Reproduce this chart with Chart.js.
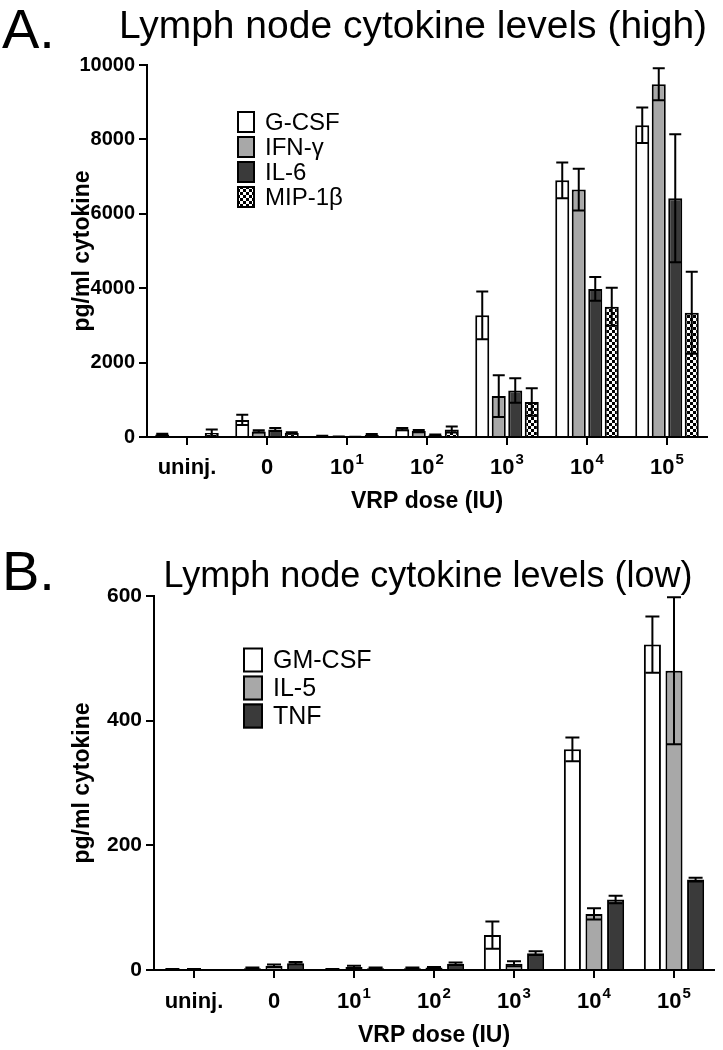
<!DOCTYPE html>
<html>
<head>
<meta charset="utf-8">
<script src="https://cdn.jsdelivr.net/npm/chart.js"></script>
<style>
body { margin: 0; background: #fff; overflow: hidden; }
#wrap { position: relative; width: 723px; height: 1050px; font-family: "Liberation Sans", Arial, sans-serif; }
canvas { position: absolute; left: 0; }
.lbl { position: absolute; line-height: 1; white-space: nowrap; color: #000; }
</style>
</head>
<body>
<div id="wrap">
  <canvas id="chartA" width="723" height="525" style="top:0"></canvas>
  <canvas id="chartB" width="723" height="525" style="top:525px"></canvas>
  <div class="lbl" style="left:2px;top:1px;font-size:56px">A.</div>
  <div class="lbl" style="left:413px;top:5px;font-size:39px;transform:translateX(-50%)">Lymph node cytokine levels (high)</div>
  <div class="lbl" style="left:2px;top:543px;font-size:56px">B.</div>
  <div class="lbl" style="left:428px;top:557px;font-size:36px;transform:translateX(-50%)">Lymph node cytokine levels (low)</div>
</div>
<script>
// data
var doses = ['uninj.', '0', '10^1', '10^2', '10^3', '10^4', '10^5'];

var highNames = ['G-CSF', 'IFN-\u03b3', 'IL-6', 'MIP-1\u03b2'];
var gcsf     = [70, 460, 30, 210, 3270, 6900, 8380];
var gcsfErr  = [20, 140, 5, 30, 640, 480, 480];
var ifng     = [0, 150, 10, 160, 1100, 6650, 9480];
var ifngErr  = [0, 30, 5, 30, 560, 560, 430];
var il6      = [0, 200, 5, 50, 1250, 3980, 6420];
var il6Err   = [0, 40, 3, 20, 330, 320, 1720];
var mip1b    = [110, 110, 60, 200, 940, 3500, 3340];
var mip1bErr = [90, 20, 20, 80, 370, 510, 1100];
var highTicks = [0, 2000, 4000, 6000, 8000, 10000];

var lowNames = ['GM-CSF', 'IL-5', 'TNF'];
var gmcsf    = [1, 3, 1, 3, 56, 354, 522];
var gmcsfErr = [0.5, 1, 0.5, 1, 22, 19, 45];
var il5      = [1, 7, 5, 4, 10, 90, 480];
var il5Err   = [0.5, 2, 2, 1, 4, 9, 118];
var tnf      = [0, 11, 3, 10, 27, 113, 145];
var tnfErr   = [0, 2, 1, 2, 3, 6, 3];
var lowTicks = [0, 200, 400, 600];

var FONT = '"Liberation Sans", Arial, sans-serif';
Chart.defaults.font.family = FONT;
Chart.defaults.color = '#000';

// checkered fill for MIP-1b
var pc = document.createElement('canvas');
pc.width = 6; pc.height = 6;
var pctx = pc.getContext('2d');
pctx.fillStyle = '#fff'; pctx.fillRect(0, 0, 6, 6);
pctx.fillStyle = '#000'; pctx.fillRect(0, 0, 3, 3); pctx.fillRect(3, 3, 3, 3);
var checker = pctx.createPattern(pc, 'repeat');

var fills = ['#ffffff', '#a8a8a8', '#3a3a3a', checker];

var errorBars = {
  id: 'errorBars',
  afterDatasetsDraw: function(chart, args, opts) {
    var ctx = chart.ctx, y = chart.scales.y;
    ctx.save();
    ctx.strokeStyle = '#000';
    ctx.lineWidth = 2;
    chart.data.datasets.forEach(function(ds, i) {
      var meta = chart.getDatasetMeta(i);
      meta.data.forEach(function(bar, j) {
        var e = ds.err[j];
        if (!e) return;
        var v = ds.data[j];
        var top = y.getPixelForValue(v + e);
        var bot = y.getPixelForValue(Math.max(0, v - e));
        ctx.beginPath();
        ctx.moveTo(bar.x, top); ctx.lineTo(bar.x, bot);
        ctx.moveTo(bar.x - opts.cap, top); ctx.lineTo(bar.x + opts.cap, top);
        if (v - e > 0) { ctx.moveTo(bar.x - opts.cap, bot); ctx.lineTo(bar.x + opts.cap, bot); }
        ctx.stroke();
      });
    });
    ctx.restore();
  }
};

// x labels with superscript exponents
var doseLabels = {
  id: 'doseLabels',
  afterDraw: function(chart, args, opts) {
    var ctx = chart.ctx, x = chart.scales.x;
    var base = chart.chartArea.bottom + opts.dy;
    ctx.save();
    ctx.fillStyle = '#000';
    ctx.textAlign = 'left';
    ctx.textBaseline = 'alphabetic';
    chart.data.labels.forEach(function(lab, i) {
      var cx = x.getPixelForValue(i);
      var parts = lab.split('^');
      ctx.font = 'bold 22px ' + FONT;
      var w0 = ctx.measureText(parts[0]).width;
      var w1 = 0;
      if (parts[1]) {
        ctx.font = 'bold 15px ' + FONT;
        w1 = ctx.measureText(parts[1]).width + 1;
      }
      var sx = cx - (w0 + w1) / 2;
      ctx.font = 'bold 22px ' + FONT;
      ctx.fillText(parts[0], sx, base);
      if (parts[1]) {
        ctx.font = 'bold 15px ' + FONT;
        ctx.fillText(parts[1], sx + w0 + 1, base - 10);
      }
    });
    ctx.restore();
  }
};

var boxLegend = {
  id: 'boxLegend',
  afterDraw: function(chart, args, o) {
    var ctx = chart.ctx;
    ctx.save();
    chart.data.datasets.forEach(function(ds, i) {
      var cy = o.y + i * o.gap;
      ctx.fillStyle = ds.backgroundColor;
      ctx.fillRect(o.x, cy - o.h / 2, o.w, o.h);
      ctx.lineWidth = 2;
      ctx.strokeStyle = '#000';
      ctx.strokeRect(o.x + 1, cy - o.h / 2 + 1, o.w - 2, o.h - 2);
      ctx.fillStyle = '#000';
      ctx.font = o.size + 'px ' + FONT;
      ctx.textBaseline = 'middle';
      ctx.fillText(ds.label, o.x + o.w + 10, cy + 1);
    });
    ctx.restore();
  }
};

function makeChart(id, names, series, errs, ticks, cfg) {
  var datasets = names.map(function(n, i) {
    return {
      label: n,
      data: series[i],
      err: errs[i],
      backgroundColor: fills[i],
      borderColor: '#000',
      borderWidth: 2,
      borderSkipped: 'bottom',
      categoryPercentage: cfg.cat,
      barPercentage: cfg.bar
    };
  });
  return new Chart(document.getElementById(id), {
    type: 'bar',
    data: { labels: doses, datasets: datasets },
    plugins: [errorBars, doseLabels, boxLegend],
    options: {
      responsive: false,
      animation: false,
      layout: { padding: cfg.pad },
      plugins: {
        legend: { display: false },
        tooltip: { enabled: false },
        errorBars: { cap: cfg.cap },
        doseLabels: { dy: cfg.labelDy },
        boxLegend: cfg.legend
      },
      scales: {
        x: {
          afterFit: function(s) { s.height = cfg.xh; },
          ticks: { display: false },
          grid: { offset: false, drawOnChartArea: false, drawTicks: true, tickLength: 8, color: '#000', lineWidth: 2 },
          border: { display: true, color: '#000', width: 2 },
          title: { display: true, text: 'VRP dose (IU)', font: { family: FONT, size: 23, weight: 'bold' }, color: '#000', padding: 0 }
        },
        y: {
          min: ticks[0],
          max: ticks[ticks.length - 1],
          afterFit: function(s) { s.width = cfg.yw; },
          afterBuildTicks: function(s) { s.ticks = ticks.map(function(v) { return { value: v }; }); },
          ticks: {
            font: { family: FONT, size: cfg.tickSize, weight: 'bold' },
            color: '#000',
            padding: 4,
            callback: function(v) { return String(v); }
          },
          grid: { drawOnChartArea: false, drawTicks: true, tickLength: 8, color: '#000', lineWidth: 2 },
          border: { display: true, color: '#000', width: 2 },
          title: { display: true, text: 'pg/ml cytokine', font: { family: FONT, size: 23, weight: 'bold' }, color: '#000', padding: 0 }
        }
      }
    }
  });
}

makeChart('chartA', highNames, [gcsf, ifng, il6, mip1b], [gcsfErr, ifngErr, il6Err, mip1bErr], highTicks, {
  cat: 0.825, bar: 0.85, cap: 6, tickSize: 20,
  pad: { left: 69, top: 65, right: 16, bottom: 10 },
  yw: 78, xh: 78, labelDy: 37,
  legend: { x: 237, y: 122, gap: 25, w: 18, h: 22, size: 24 }
});

makeChart('chartB', lowNames, [gmcsf, il5, tnf], [gmcsfErr, il5Err, tnfErr], lowTicks, {
  cat: 0.81, bar: 0.79, cap: 7, tickSize: 21,
  pad: { left: 69, top: 71, right: 9, bottom: 1 },
  yw: 85, xh: 79, labelDy: 38,
  legend: { x: 243, y: 135, gap: 28, w: 20, h: 25, size: 25 }
});
</script>
</body>
</html>
